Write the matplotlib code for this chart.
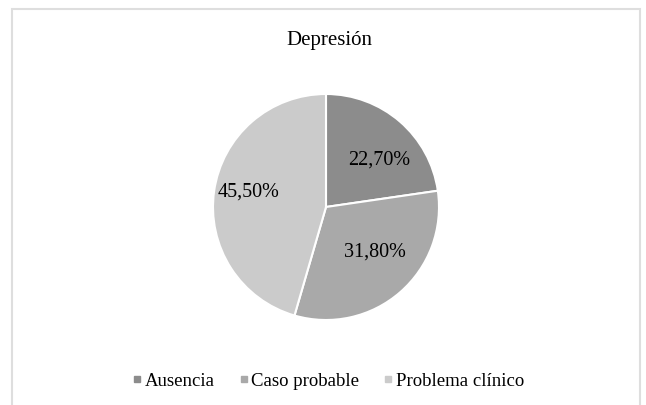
import numpy as np
import matplotlib.pyplot as plt
from matplotlib.patches import Rectangle
from matplotlib.lines import Line2D

plt.rcParams['font.family'] = ['Liberation Serif', 'DejaVu Serif']

title = 'Depresión'
categories = ['Ausencia', 'Caso probable', 'Problema clínico']
values = [22.70, 31.80, 45.50]
colors = ['#8c8c8c', '#a9a9a9', '#cbcbcb']

# where excel put the labels inside each slice (radius fraction, angle shift in deg)
label_r = [0.63, 0.59, 0.70]
label_shift = [-7.5, 6.3, -3.0]

W, H = 646, 405
fig = plt.figure(figsize=(W / 100, H / 100), dpi=100)

# chart area border (open at the bottom, like the crop)
fig.patches.append(Rectangle((12 / W, -0.05), 628 / W, 1.05 - 9 / H, transform=fig.transFigure,
                             fill=False, edgecolor='#dedede', linewidth=1.5))

ax = fig.add_axes([213 / W, 85 / H, 226 / W, 226 / H])
wedges, texts, autotexts = ax.pie(values, colors=colors, startangle=90, counterclock=False,
                                  autopct=lambda p: f'{p:.2f}%'.replace('.', ','),
                                  wedgeprops=dict(edgecolor='white', linewidth=1.5),
                                  textprops=dict(fontsize=14.5, color='black'))
for w, t, r, s in zip(wedges, autotexts, label_r, label_shift):
    ang = np.deg2rad((w.theta1 + w.theta2) / 2 + s)
    t.set_position((r * np.cos(ang), r * np.sin(ang)))

ax.set_xlim(-1, 1)
ax.set_ylim(-1, 1)
ax.set_aspect('equal')

fig.text(329 / W, 1 - 40 / H, title, ha='center', va='center', fontsize=15)

handles = [Line2D([], [], marker='s', linestyle='none', markersize=5,
                  markerfacecolor=c, markeredgecolor=c) for c in colors]
fig.legend(handles, categories, loc='center', bbox_to_anchor=(327 / W, 1 - 381 / H),
           ncol=3, frameon=False, fontsize=13.5, handletextpad=0.0, columnspacing=1.15,
           handlelength=0.8)

fig.savefig('out.png', dpi=100)
